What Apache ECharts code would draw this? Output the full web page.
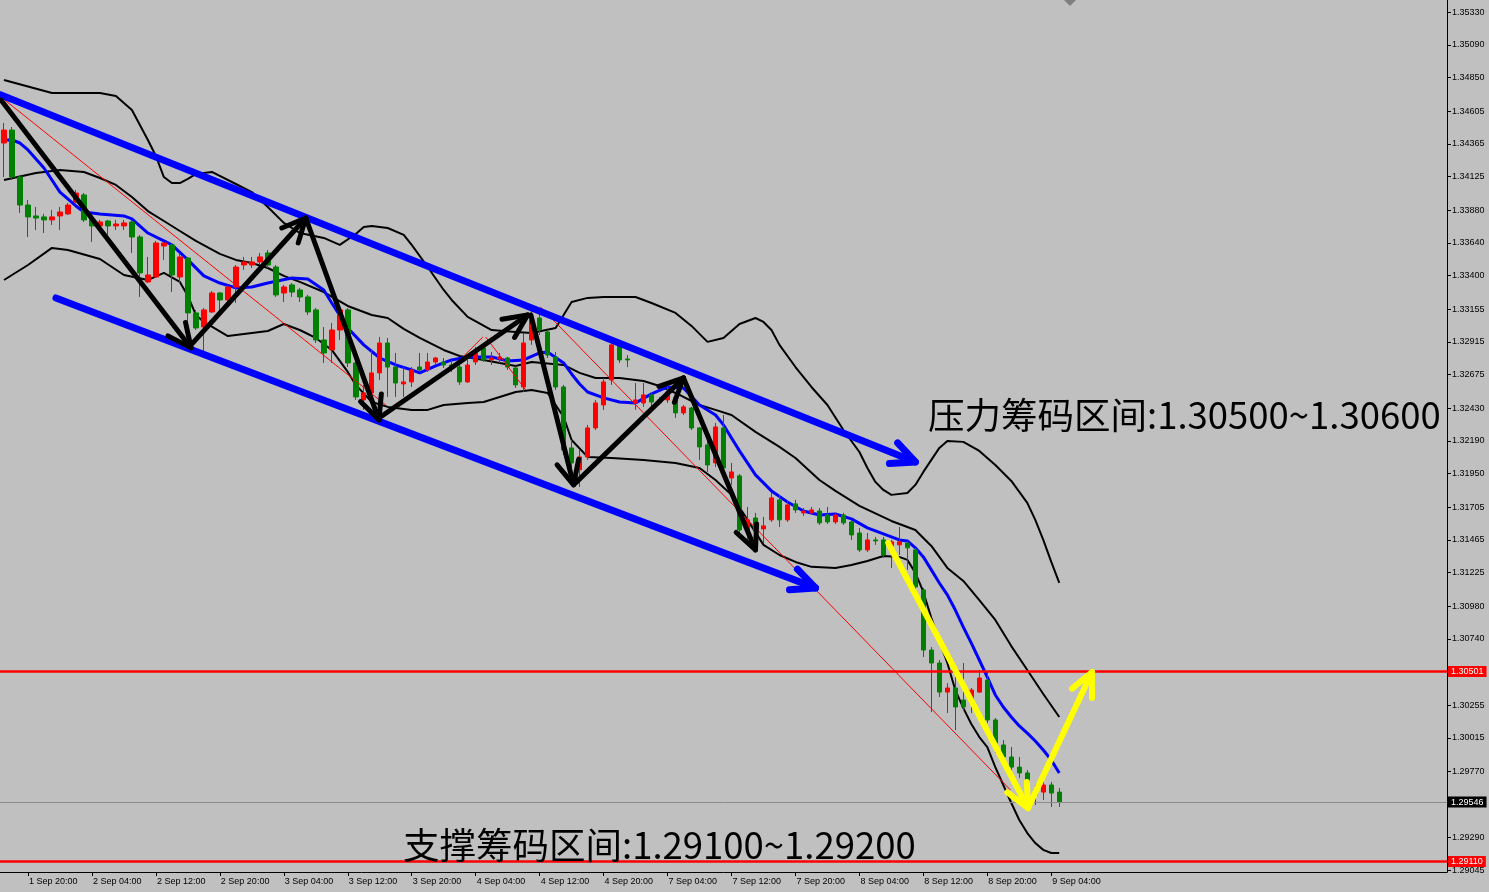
<!DOCTYPE html>
<html><head><meta charset="utf-8">
<script src="https://cdn.jsdelivr.net/npm/echarts@6/dist/echarts.min.js"></script>
<style>html,body{margin:0;padding:0;background:#c0c0c0;overflow:hidden}#c{width:1489px;height:892px}</style>
</head><body><div id="c"></div>
<script>
// ---- time axis: hourly bars (day, first hour, last hour) ----
const tradingDays = [[1,17,23],[2,0,23],[3,0,23],[4,0,23],[7,0,23],[8,0,23],[9,0,5]];
const totalSlots = 181;

// ---- y tick labels ----
const yTicks = [1.35330,1.35090,1.34850,1.34605,1.34365,1.34125,1.33880,1.33640,1.33400,1.33155,1.32915,1.32675,1.32430,1.32190,1.31950,1.31705,1.31465,1.31225,1.30980,1.30740,1.30255,1.30015,1.29770,1.29290,1.29045];

// ---- candles [open, close, low, high] ----
const ohlc = [
[1.34371,1.34466,1.34122,1.34518],[1.34466,1.34122,1.34100,1.34488],[1.34122,1.33917,1.33859,1.34137],[1.33917,1.33830,1.33683,1.33954],
[1.33837,1.33822,1.33734,1.33903],[1.33830,1.33808,1.33712,1.33852],[1.33808,1.33830,1.33771,1.33881],[1.33837,1.33866,1.33734,1.33903],
[1.33852,1.33917,1.33844,1.33932],[1.33939,1.34005,1.33932,1.34027],[1.33991,1.33808,1.33793,1.34005],[1.33808,1.33764,1.33647,1.33844],
[1.33764,1.33793,1.33749,1.33808],[1.33800,1.33764,1.33698,1.33808],[1.33764,1.33778,1.33734,1.33808],[1.33764,1.33786,1.33734,1.33808],
[1.33793,1.33683,1.33566,1.33808],[1.33683,1.33420,1.33244,1.33698],[1.33354,1.33405,1.33346,1.33537],[1.33390,1.33639,1.33383,1.33654],
[1.33617,1.33639,1.33515,1.33647],[1.33625,1.33405,1.33280,1.33639],[1.33390,1.33537,1.33346,1.33566],[1.33529,1.33127,1.33024,1.33537],
[1.33127,1.33017,1.33002,1.33149],[1.33024,1.33149,1.32841,1.33163],[1.33134,1.33273,1.33127,1.33288],[1.33273,1.33222,1.33127,1.33280],
[1.33222,1.33317,1.33185,1.33332],[1.33317,1.33463,1.33200,1.33478],[1.33478,1.33500,1.33442,1.33537],[1.33478,1.33500,1.33456,1.33537],
[1.33500,1.33537,1.33478,1.33566],[1.33566,1.33478,1.33456,1.33588],[1.33463,1.33259,1.33244,1.33478],[1.33273,1.33317,1.33207,1.33332],
[1.33332,1.33280,1.33244,1.33346],[1.33295,1.33244,1.33207,1.33310],[1.33244,1.33134,1.33112,1.33259],[1.33149,1.32929,1.32907,1.33163],
[1.32929,1.32834,1.32761,1.33024],[1.32856,1.33002,1.32761,1.33054],[1.33002,1.33149,1.32929,1.33171],[1.33149,1.32761,1.32731,1.33163],
[1.32761,1.32512,1.32490,1.32783],[1.32490,1.32541,1.32417,1.32600],[1.32541,1.32688,1.32468,1.32856],[1.32688,1.32907,1.32636,1.32951],
[1.32907,1.32731,1.32512,1.32944],[1.32731,1.32614,1.32512,1.32834],[1.32607,1.32622,1.32512,1.32731],[1.32622,1.32710,1.32585,1.32731],
[1.32731,1.32710,1.32695,1.32834],[1.32710,1.32768,1.32695,1.32834],[1.32768,1.32797,1.32746,1.32805],[1.32768,1.32746,1.32724,1.32797],
[1.32746,1.32731,1.32695,1.32783],[1.32731,1.32622,1.32600,1.32761],[1.32622,1.32746,1.32614,1.32783],[1.32768,1.32834,1.32746,1.32878],
[1.32871,1.32783,1.32768,1.32878],[1.32783,1.32797,1.32746,1.32841],[1.32790,1.32805,1.32761,1.32834],[1.32797,1.32731,1.32710,1.32805],
[1.32724,1.32600,1.32578,1.32739],[1.32585,1.32907,1.32548,1.32980],[1.32929,1.33076,1.32893,1.33171],[1.33090,1.33002,1.32966,1.33149],
[1.32988,1.32819,1.32797,1.33002],[1.32805,1.32585,1.32563,1.32841],[1.32585,1.32124,1.32087,1.32600],[1.32139,1.32029,1.31978,1.32197],
[1.31978,1.32073,1.31853,1.32124],[1.32073,1.32285,1.32051,1.32307],[1.32285,1.32468,1.32270,1.32490],[1.32453,1.32622,1.32417,1.32651],
[1.32636,1.32893,1.32600,1.32907],[1.32885,1.32783,1.32761,1.32893],[1.32790,1.32783,1.32731,1.32819],[1.32468,1.32490,1.32417,1.32614],
[1.32468,1.32527,1.32439,1.32614],[1.32527,1.32475,1.32439,1.32548],[1.32468,1.32490,1.32453,1.32512],[1.32490,1.32548,1.32468,1.32600],
[1.32505,1.32395,1.32358,1.32512],[1.32395,1.32439,1.32380,1.32453],[1.32431,1.32285,1.32270,1.32439],[1.32285,1.32146,1.32051,1.32292],
[1.32161,1.32014,1.31963,1.32197],[1.32029,1.32292,1.31999,1.32322],[1.32285,1.31992,1.31963,1.32380],[1.31919,1.31963,1.31868,1.32029],
[1.31934,1.31538,1.31502,1.31948],[1.31538,1.31612,1.31443,1.31707],[1.31626,1.31538,1.31465,1.31663],[1.31546,1.31568,1.31443,1.31634],
[1.31612,1.31773,1.31597,1.31809],[1.31758,1.31612,1.31560,1.31795],[1.31612,1.31721,1.31597,1.31758],[1.31729,1.31685,1.31663,1.31758],
[1.31663,1.31677,1.31641,1.31699],[1.31663,1.31685,1.31648,1.31707],[1.31677,1.31590,1.31575,1.31699],[1.31648,1.31597,1.31582,1.31707],
[1.31597,1.31648,1.31582,1.31663],[1.31648,1.31590,1.31575,1.31663],[1.31597,1.31502,1.31465,1.31612],[1.31516,1.31392,1.31377,1.31553],
[1.31392,1.31465,1.31377,1.31516],[1.31465,1.31458,1.31429,1.31487],[1.31465,1.31355,1.31333,1.31487],[1.31421,1.31451,1.31260,1.31465],
[1.31429,1.31451,1.31355,1.31560],[1.31443,1.31407,1.31246,1.31458],[1.31392,1.31121,1.31099,1.31407],[1.31099,1.30659,1.30608,1.31114],
[1.30659,1.30564,1.30205,1.30681],[1.30564,1.30351,1.30315,1.30586],[1.30351,1.30381,1.30198,1.30417],[1.30381,1.30242,1.30073,1.30461],
[1.30293,1.30242,1.30220,1.30564],[1.30271,1.30366,1.30198,1.30381],[1.30351,1.30454,1.30344,1.30513],[1.30439,1.30147,1.30125,1.30498],
[1.30147,1.29978,1.29905,1.30161],[1.29964,1.29876,1.29802,1.30000],[1.29876,1.29802,1.29781,1.29949],[1.29802,1.29759,1.29722,1.29876],
[1.29759,1.29634,1.29539,1.29781],[1.29634,1.29598,1.29524,1.29671],[1.29619,1.29671,1.29561,1.29693],[1.29671,1.29612,1.29510,1.29693],
[1.29619,1.29546,1.29510,1.29649]
];

// ---- indicator lines, [bar index, price] ----
const upperBand = [[0,1.34832],[6,1.34737],[12,1.34737],[14,1.34715],[16,1.34613],[18,1.34393],[19,1.34276],[20,1.34122],[21,1.34078],[22,1.34078],[23,1.34108],[24,1.34144],[26,1.34159],[29,1.34071],[31,1.34012],[33,1.33903],[35,1.33786],[37,1.33712],[40,1.33676],[42,1.33625],[44,1.33705],[45,1.33756],[46,1.33764],[48,1.33749],[50,1.33698],[51,1.33625],[53,1.33463],[55,1.33295],[56,1.33222],[58,1.33098],[61,1.33002],[64,1.32988],[66,1.32980],[69,1.33017],[70,1.33112],[71,1.33207],[73,1.33237],[75,1.33244],[79,1.33244],[81,1.33200],[84,1.33127],[86,1.33032],[88,1.32915],[90,1.32944],[92,1.33046],[94,1.33090],[95,1.33061],[96,1.33002],[97,1.32893],[99,1.32731],[101,1.32585],[103,1.32453],[105,1.32270],[107,1.32109],[108,1.31992],[109,1.31890],[110,1.31831],[111,1.31795],[113,1.31809],[114,1.31868],[115,1.31963],[116,1.32051],[117,1.32139],[118,1.32190],[120,1.32183],[122,1.32117],[124,1.32014],[126,1.31897],[128,1.31736],[129,1.31612],[130,1.31465],[131,1.31304],[132,1.31150]];
const slowMA = [[0,1.34100],[4,1.34152],[7,1.34174],[10,1.34159],[12,1.34115],[14,1.34064],[16,1.33976],[18,1.33873],[20,1.33800],[22,1.33727],[24,1.33654],[27,1.33559],[29,1.33515],[31,1.33493],[33,1.33456],[35,1.33398],[37,1.33354],[40,1.33280],[43,1.33178],[46,1.33112],[48,1.33090],[50,1.33010],[52,1.32944],[55,1.32856],[57,1.32812],[60,1.32783],[62,1.32761],[64,1.32739],[66,1.32768],[70,1.32746],[72,1.32688],[74,1.32651],[77,1.32651],[80,1.32629],[82,1.32592],[84,1.32541],[87,1.32453],[89,1.32417],[91,1.32380],[94,1.32256],[97,1.32146],[99,1.32065],[102,1.31904],[104,1.31824],[107,1.31714],[111,1.31604],[114,1.31538],[116,1.31421],[118,1.31260],[120,1.31165],[122,1.31025],[124,1.30879],[126,1.30688],[128,1.30513],[130,1.30337],[132,1.30169]];
const middleBand = [[0,1.34393],[1,1.34393],[2,1.34371],[3,1.34320],[5,1.34188],[7,1.34012],[9,1.33910],[10,1.33866],[12,1.33852],[15,1.33837],[16,1.33815],[18,1.33712],[20,1.33654],[21,1.33625],[23,1.33515],[25,1.33398],[27,1.33346],[29,1.33310],[31,1.33317],[33,1.33346],[36,1.33383],[38,1.33376],[40,1.33295],[41,1.33200],[43,1.33017],[45,1.32893],[47,1.32797],[49,1.32746],[51,1.32710],[52,1.32688],[54,1.32739],[56,1.32783],[58,1.32805],[61,1.32805],[63,1.32775],[65,1.32783],[67,1.32834],[68,1.32841],[70,1.32761],[71,1.32680],[72,1.32607],[73,1.32548],[75,1.32505],[77,1.32475],[79,1.32468],[81,1.32534],[83,1.32585],[85,1.32578],[87,1.32453],[89,1.32380],[90,1.32307],[92,1.32117],[94,1.31941],[96,1.31824],[98,1.31743],[100,1.31677],[102,1.31648],[104,1.31655],[106,1.31619],[108,1.31553],[110,1.31509],[112,1.31465],[113,1.31458],[114,1.31407],[115,1.31341],[116,1.31246],[117,1.31150],[118,1.31063],[119,1.30952],[120,1.30827],[121,1.30710],[122,1.30586],[123,1.30461],[124,1.30330],[125,1.30242],[126,1.30169],[127,1.30103],[128,1.30051],[129,1.29993],[130,1.29927],[131,1.29854],[132,1.29759]];
const lowerBand = [[0,1.33368],[3,1.33478],[6,1.33603],[8,1.33588],[12,1.33522],[15,1.33405],[18,1.33368],[20,1.33420],[22,1.33354],[23,1.33251],[24,1.33112],[25,1.33061],[28,1.32958],[30,1.32973],[33,1.32995],[35,1.33046],[37,1.33002],[39,1.32944],[41,1.32856],[43,1.32695],[44,1.32600],[46,1.32475],[48,1.32439],[51,1.32417],[53,1.32417],[55,1.32453],[58,1.32468],[60,1.32475],[62,1.32512],[64,1.32548],[66,1.32563],[68,1.32541],[70,1.32366],[71,1.32197],[73,1.32073],[76,1.32065],[80,1.32051],[84,1.32029],[87,1.31992],[89,1.31904],[91,1.31795],[93,1.31612],[95,1.31429],[97,1.31355],[99,1.31304],[101,1.31268],[104,1.31260],[106,1.31282],[108,1.31311],[110,1.31348],[112,1.31341],[113,1.31319],[114,1.31224],[115,1.31084],[116,1.30893],[117,1.30725],[118,1.30564],[119,1.30366],[120,1.30234],[121,1.30117],[122,1.30022],[123,1.29949],[124,1.29802],[125,1.29671],[126,1.29539],[127,1.29415],[128,1.29319],[129,1.29246],[130,1.29196],[131,1.29173],[132,1.29173]];

// ---- drawn annotations [fromBar, fromPrice, toBar, toPrice] ----
const blueChannel = [[-0.375,1.34723,114,1.32036],[6.5,1.33237,101.5,1.31114]];
const blackWaves = [[-0.375,1.34686,23.4,1.32871],[23.4,1.32893,37.75,1.33822],[37.75,1.33822,46.9,1.32344],[46.9,1.32358,65.5,1.33112],[65.9,1.33112,71.25,1.31868],[71.5,1.31883,85,1.32651],[85,1.32651,94,1.31392]];
const yellowPath = [[110.6,1.31443,128.1,1.29502],[128.1,1.29502,136.1,1.30498]];
const thinRedLines = [[-0.375,1.34708,47.75,1.32453],[57.4,1.32805,59.9,1.32951],[60.25,1.32951,65.25,1.32563],[67.1,1.33171,125.9,1.29634]];

// ---- horizontal levels ----
const resistanceLevel = 1.30501;
const bidLevel = 1.29546;
const supportLevel = 1.29110;
const resistText = '压力筹码区间:1.30500~1.30600';
const supportText = '支撑筹码区间:1.29100~1.29200';

const categories = [];
tradingDays.forEach(([d,h0,h1]) => { for (let h = h0; h <= h1; h++) categories.push(d + ' Sep ' + String(h).padStart(2,'0') + ':00'); });
while (categories.length < totalSlots) categories.push('');
const labelInterval = (idx) => idx % 8 === 3 && idx < ohlc.length;

function annotation(name, arr, color, width, headLen, z) {
  return {
    type: 'custom', name, z, silent: true, animation: false, clip: false,
    dimensions: [{name:'x1',type:'float'},{name:'p1',type:'float'},{name:'x2',type:'float'},{name:'p2',type:'float'}],
    encode: {x: 0, y: 1},
    data: arr,
    renderItem(params, api) {
      const a0 = api.coord([0, api.value(1)]);
      const a1 = api.coord([1, api.value(1)]);
      const bw = a1[0] - a0[0];
      const b0 = api.coord([0, api.value(3)]);
      const x1 = a0[0] + api.value(0) * bw, y1 = a0[1];
      const x2 = b0[0] + api.value(2) * bw, y2 = b0[1];
      const children = [{type:'line', shape:{x1, y1, x2, y2}, style:{stroke: color, lineWidth: width, lineCap: headLen ? 'round' : 'butt'}}];
      if (headLen) {
        const ang = Math.atan2(y2 - y1, x2 - x1), s = 0.44;
        children.push({type:'polyline', shape:{points:[
          [x2 - headLen*Math.cos(ang - s), y2 - headLen*Math.sin(ang - s)], [x2, y2],
          [x2 - headLen*Math.cos(ang + s), y2 - headLen*Math.sin(ang + s)]]},
          style:{stroke: color, fill: 'none', lineWidth: width, lineCap: 'round', lineJoin: 'round'}});
      }
      return {type:'group', children};
    }
  };
}

function lineSeries(name, data, color, width, z) {
  return {type:'line', name, data, showSymbol:false, symbol:'none', z, silent:true, animation:false,
    lineStyle:{color, width}, itemStyle:{color}};
}

const markLbl = (bg) => ({show:true, position:'end', distance:1, formatter: p => Number(p.value).toFixed(5),
  color:'#ffffff', backgroundColor:bg, padding:[1,3,1,3], fontSize:9, fontFamily:'Liberation Sans'});

const chart = echarts.init(document.getElementById('c'), null, {renderer:'canvas'});
chart.setOption({
  animation: false,
  backgroundColor: '#c0c0c0',
  grid: {left: -1, right: 42, top: 0, bottom: 20, containLabel: false},
  xAxis: {
    type: 'category', data: categories, boundaryGap: true,
    axisLine: {show: true, lineStyle: {color: '#000', width: 1}},
    axisTick: {show: true, alignWithLabel: true, interval: labelInterval, length: 4, lineStyle: {color: '#000'}},
    axisLabel: {interval: labelInterval, align: 'left', fontSize: 9, color: '#000', margin: 5, fontFamily: 'Liberation Sans', padding: [0,0,0,1]},
    splitLine: {show: false}
  },
  yAxis: {
    type: 'value', position: 'right', min: 1.29034, max: 1.35418,
    axisLine: {show: true, lineStyle: {color: '#000', width: 1}},
    axisTick: {show: true, customValues: yTicks, length: 4, lineStyle: {color: '#000'}},
    axisLabel: {customValues: yTicks, formatter: v => v.toFixed(5), fontSize: 9, color: '#000', margin: 5, fontFamily: 'Liberation Sans'},
    splitLine: {show: false}
  },
  series: [
    lineSeries('upper', upperBand, '#000000', 2, 3),
    lineSeries('slow', slowMA, '#000000', 2, 3),
    lineSeries('lower', lowerBand, '#000000', 2, 3),
    lineSeries('middle', middleBand, '#0000ff', 3, 4),
    {
      type: 'candlestick', name: 'price', data: ohlc, barWidth: 5, z: 5, silent: true, animation: false,
      itemStyle: {color: '#ff0000', color0: '#008000', borderColor: '#ff0000', borderColor0: '#008000', borderWidth: 1},
      markLine: {
        symbol: ['none','none'], silent: true, animation: false, z: 6, precision: 5,
        data: [
          {yAxis: resistanceLevel, lineStyle: {color: '#ff0000', width: 2.5, type: 'solid'}, label: markLbl('#ff0000')},
          {yAxis: bidLevel, lineStyle: {color: '#8c8c8c', width: 1, type: 'solid'}, label: markLbl('#000000')},
          {yAxis: supportLevel, lineStyle: {color: '#ff0000', width: 2.5, type: 'solid'}, label: markLbl('#ff0000')}
        ]
      }
    },
    annotation('thinRed', thinRedLines, '#ff0000', 1, 0, 7),
    annotation('blue', blueChannel, '#0000ff', 7, 26, 8),
    annotation('black', blackWaves, '#000000', 5, 26, 9),
    annotation('yellow', yellowPath, '#ffff00', 6, 26, 10)
  ],
  graphic: [
    {type:'polygon', shape:{points:[[1064,0],[1076,0],[1070,6]]}, style:{fill:'#7f7f7f'}, z: 20},
    {type:'text', x: 928, y: 415, z: 20, style:{text: resistText, fontSize: 36.5, fontFamily: '"Noto Sans CJK SC", sans-serif', fill:'#000', verticalAlign:'middle', align:'left'}},
    {type:'text', x: 403, y: 845, z: 20, style:{text: supportText, fontSize: 36.5, fontFamily: '"Noto Sans CJK SC", sans-serif', fill:'#000', verticalAlign:'middle', align:'left'}}
  ]
});
</script>
</body></html>
